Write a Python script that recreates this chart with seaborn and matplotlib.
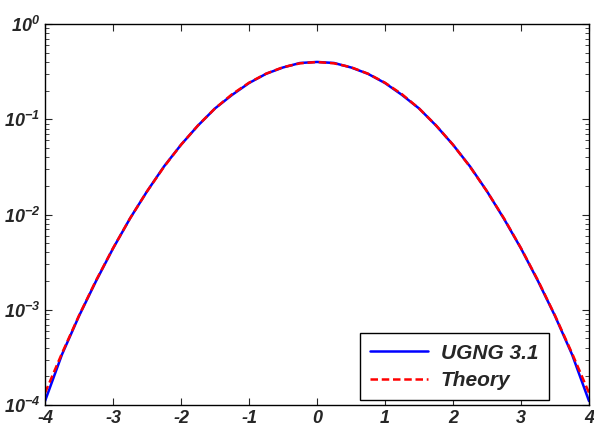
import matplotlib
matplotlib.use('Agg')
import matplotlib.pyplot as plt
import numpy as np
import pandas as pd
import seaborn as sns

# values (log-scale pdf)
x_vals = [-4, -3.75, -3.5, -3.25, -3, -2.75, -2.5, -2.25, -2, -1.75, -1.5, -1.25, -1,
          -0.75, -0.5, -0.25, 0, 0.25, 0.5, 0.75, 1, 1.25, 1.5, 1.75, 2,
          2.25, 2.5, 2.75, 3, 3.25, 3.5, 3.75, 4]
ugng = [1.1e-4, 3.4e-4, 8.6e-4, 2.0e-3, 4.4e-3, 9.1e-3, 1.75e-2, 3.2e-2, 5.4e-2, 8.6e-2, 0.13, 0.18, 0.24,
        0.30, 0.35, 0.39, 0.40, 0.39, 0.35, 0.30, 0.24, 0.18, 0.13, 8.6e-2, 5.4e-2,
        3.2e-2, 1.75e-2, 9.0e-3, 4.4e-3, 2.0e-3, 8.6e-4, 3.4e-4, 1.1e-4]
theory = [1.34e-4, 3.5e-4, 8.7e-4, 2.03e-3, 4.43e-3, 9.1e-3, 1.75e-2, 3.17e-2, 5.4e-2, 8.63e-2, 0.13, 0.183, 0.242,
          0.301, 0.352, 0.387, 0.399, 0.387, 0.352, 0.301, 0.242, 0.183, 0.13, 8.63e-2, 5.4e-2,
          3.17e-2, 1.75e-2, 9.1e-3, 4.43e-3, 2.03e-3, 8.7e-4, 3.5e-4, 1.34e-4]
series_names = ['UGNG 3.1', 'Theory']

sns.set_style('ticks')
plt.rcParams['font.family'] = ['Liberation Sans', 'DejaVu Sans']
plt.rcParams['font.weight'] = 'bold'
plt.rcParams['font.style'] = 'italic'
plt.rcParams['mathtext.fontset'] = 'custom'
plt.rcParams['mathtext.rm'] = 'Liberation Sans:italic:bold'
plt.rcParams['mathtext.it'] = 'Liberation Sans:italic:bold'
plt.rcParams['mathtext.bf'] = 'Liberation Sans:italic:bold'

df = pd.DataFrame({'x': x_vals * 2,
                   'y': ugng + theory,
                   'series': [series_names[0]] * len(x_vals) + [series_names[1]] * len(x_vals)})

fig = plt.figure(figsize=(5.94, 4.30), dpi=100)
ax = fig.add_axes([0.0758, 0.0581, 0.9158, 0.886])

sns.lineplot(data=df, x='x', y='y', hue='series', style='series',
             palette=['#0000ff', '#ff0000'], dashes=[(None, None), (3, 1.5)],
             linewidth=1.8, ax=ax)

ax.set_yscale('log')
ax.set_xlim(-4, 4)
ax.set_ylim(1e-4, 1)
ax.set_xticks(np.arange(-4, 5, 1))
ax.set_xlabel('')
ax.set_ylabel('')
ax.tick_params(which='both', direction='in', top=True, right=True, labelsize=13)
ax.tick_params(which='major', length=5)
ax.tick_params(which='minor', length=3)
ax.xaxis.set_major_formatter(plt.FuncFormatter(lambda v, p: '%d' % v))
for s in ax.spines.values():
    s.set_linewidth(1.0)
    s.set_color('black')

leg = ax.legend(loc='lower right', fontsize=15, handlelength=2.8, handletextpad=0.6,
                frameon=True, fancybox=False, edgecolor='black', framealpha=1,
                borderaxespad=0.0, borderpad=0.5, labelspacing=0.4,
                bbox_to_anchor=(0.926, 0.012))
leg.get_frame().set_linewidth(1.0)

fig.savefig('out.png', dpi=100)
